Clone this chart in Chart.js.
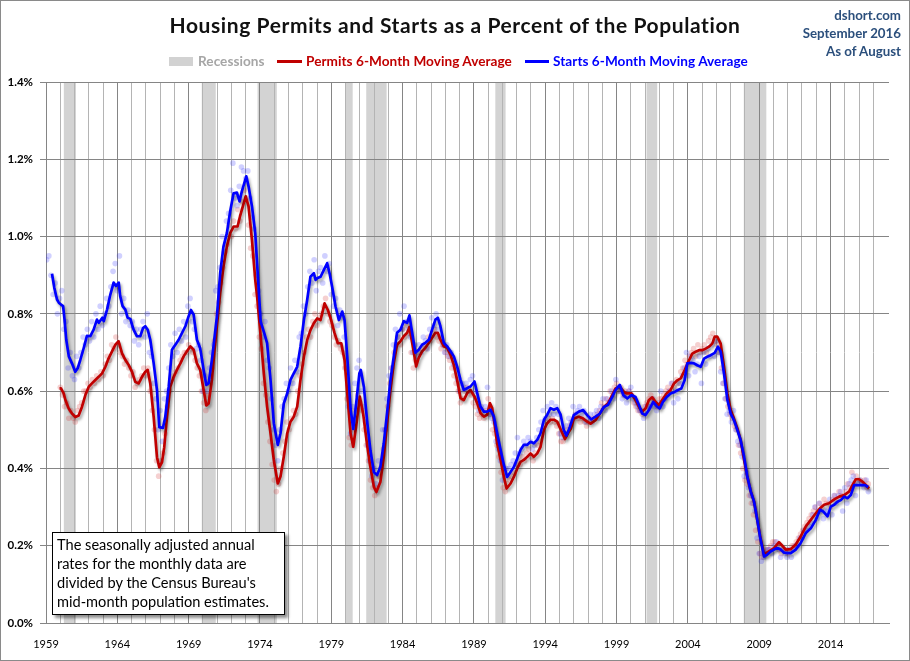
<!DOCTYPE html>
<html>
<head>
<meta charset="utf-8">
<script src="https://cdn.jsdelivr.net/npm/chart.js@4.4.0/dist/chart.umd.min.js"></script>
<style>
  html,body{margin:0;padding:0;background:#fff;}
  #wrap{position:relative;width:910px;height:661px;overflow:hidden;background:#fff;font-family:Lato,"Open Sans",sans-serif;}
  #c{position:absolute;left:0;top:0;}
  .abs{position:absolute;white-space:nowrap;}
  #title{left:0;width:910px;top:11px;text-align:center;font-weight:bold;font-size:21px;letter-spacing:0.6px;line-height:28px;color:#111;}
  .src{right:9px;font-weight:bold;font-size:13.3px;line-height:18px;color:#2b4f7c;text-align:right;}
  .leg{top:53px;font-weight:bold;font-size:13.6px;letter-spacing:0.05px;line-height:16px;}
  #note{left:52px;top:532px;width:233px;height:83px;box-sizing:border-box;border:1px solid #000;background:#fff;
        box-shadow:3px 3px 3px rgba(0,0,0,0.45);padding:1.5px 0 0 4px;font-size:14.6px;line-height:19.3px;color:#000;}
  #frame{position:absolute;left:0;top:0;width:910px;height:661px;box-sizing:border-box;border:1px solid #8a8a8a;pointer-events:none;}
</style>
</head>
<body>
<div id="wrap">
  <canvas id="c" width="910" height="661"></canvas>
  <div id="title" class="abs">Housing Permits and Starts as a Percent of the Population</div>
  <div class="abs src" style="top:6px;">dshort.com</div>
  <div class="abs src" style="top:24px;">September 2016</div>
  <div class="abs src" style="top:42px;">As of August</div>
  <div class="abs" style="left:169px;top:57px;width:24px;height:9px;background:#d2d2d2;"></div>
  <div class="abs leg" style="left:198px;color:#a6a6a6;">Recessions</div>
  <div class="abs" style="left:277px;top:60px;width:25px;height:3px;background:#c00000;"></div>
  <div class="abs leg" style="left:306px;color:#c00000;">Permits 6-Month Moving Average</div>
  <div class="abs" style="left:525px;top:60px;width:24px;height:3px;background:#0000ff;"></div>
  <div class="abs leg" style="left:553px;color:#0000ff;">Starts 6-Month Moving Average</div>
  <div id="note" class="abs">The seasonally adjusted annual<br>rates for the monthly data are<br>divided by the Census Bureau's<br>mid-month population estimates.</div>
  <div id="frame"></div>
</div>
<script>
// ---------------- DATA ----------------
const yearTickLabels = ['1959','1964','1969','1974','1979','1984','1989','1994','1999','2004','2009','2014'];
const percentTickLabels = ['0.0%','0.2%','0.4%','0.6%','0.8%','1.0%','1.2%','1.4%'];
const recessions = [[1960.25,1961.1],[1969.92,1970.9],[1973.83,1975.18],[1980.0,1980.5],[1981.45,1982.88],[1990.5,1991.22],[2001.1,2001.85],[2007.92,2009.5]];

// Starts 6-month moving average [year, % of population]
const startsMA = [[1959.42,0.904],[1959.58,0.868],[1959.77,0.837],[1959.9,0.829],[1960.05,0.824],[1960.2,0.82],[1960.3,0.785],[1960.42,0.733],[1960.6,0.69],[1960.82,0.672],[1961.05,0.65],[1961.22,0.659],[1961.4,0.68],[1961.64,0.711],[1961.87,0.743],[1962.1,0.742],[1962.34,0.759],[1962.57,0.785],[1962.7,0.777],[1962.95,0.79],[1963.05,0.781],[1963.28,0.811],[1963.51,0.85],[1963.74,0.881],[1963.9,0.872],[1964.1,0.881],[1964.2,0.846],[1964.37,0.82],[1964.56,0.811],[1964.72,0.79],[1964.91,0.787],[1965.14,0.759],[1965.38,0.742],[1965.61,0.742],[1965.8,0.763],[1965.96,0.768],[1966.13,0.759],[1966.31,0.733],[1966.55,0.672],[1966.78,0.603],[1966.94,0.507],[1967.2,0.505],[1967.36,0.533],[1967.6,0.611],[1967.83,0.707],[1968.07,0.72],[1968.3,0.733],[1968.53,0.75],[1968.77,0.768],[1969.0,0.794],[1969.16,0.81],[1969.35,0.798],[1969.58,0.733],[1969.81,0.711],[1970.05,0.655],[1970.24,0.616],[1970.4,0.62],[1970.63,0.681],[1970.74,0.715],[1970.98,0.793],[1971.21,0.905],[1971.44,0.974],[1971.68,1.009],[1971.91,1.065],[1972.15,1.112],[1972.38,1.114],[1972.57,1.091],[1972.73,1.117],[1973.04,1.156],[1973.2,1.13],[1973.44,1.078],[1973.67,1.009],[1973.8,0.93],[1974.05,0.78],[1974.3,0.75],[1974.5,0.724],[1974.74,0.629],[1974.97,0.517],[1975.25,0.461],[1975.44,0.491],[1975.67,0.568],[1975.91,0.594],[1976.14,0.629],[1976.37,0.646],[1976.61,0.663],[1976.84,0.715],[1977.08,0.784],[1977.31,0.836],[1977.54,0.896],[1977.78,0.905],[1977.9,0.888],[1978.01,0.892],[1978.25,0.896],[1978.48,0.914],[1978.71,0.931],[1978.88,0.905],[1979.06,0.87],[1979.3,0.819],[1979.53,0.784],[1979.77,0.806],[1979.93,0.784],[1980.12,0.689],[1980.35,0.555],[1980.54,0.502],[1980.75,0.57],[1980.97,0.646],[1981.07,0.655],[1981.29,0.61],[1981.52,0.52],[1981.75,0.445],[1981.99,0.39],[1982.21,0.383],[1982.44,0.404],[1982.68,0.465],[1982.91,0.543],[1983.15,0.629],[1983.38,0.69],[1983.61,0.751],[1983.85,0.759],[1984.08,0.781],[1984.32,0.777],[1984.48,0.796],[1984.67,0.751],[1984.9,0.699],[1985.13,0.707],[1985.37,0.72],[1985.6,0.725],[1985.84,0.733],[1986.07,0.759],[1986.3,0.785],[1986.47,0.79],[1986.65,0.768],[1986.89,0.725],[1987.12,0.716],[1987.36,0.703],[1987.59,0.69],[1987.82,0.664],[1988.06,0.629],[1988.29,0.603],[1988.53,0.608],[1988.76,0.612],[1989.04,0.625],[1989.23,0.595],[1989.46,0.56],[1989.7,0.547],[1989.93,0.547],[1990.16,0.552],[1990.4,0.534],[1990.63,0.491],[1990.87,0.448],[1991.1,0.409],[1991.33,0.378],[1991.57,0.391],[1991.8,0.404],[1992.04,0.426],[1992.27,0.448],[1992.5,0.461],[1992.74,0.461],[1992.97,0.469],[1993.2,0.465],[1993.44,0.474],[1993.67,0.491],[1993.91,0.526],[1994.14,0.539],[1994.37,0.556],[1994.61,0.552],[1994.84,0.556],[1995.07,0.54],[1995.3,0.499],[1995.49,0.485],[1995.73,0.508],[1996.0,0.538],[1996.36,0.547],[1996.66,0.551],[1996.94,0.538],[1997.22,0.527],[1997.53,0.534],[1997.83,0.542],[1998.11,0.559],[1998.39,0.564],[1998.7,0.585],[1998.93,0.603],[1999.23,0.616],[1999.47,0.59],[1999.75,0.581],[2000.05,0.59],[2000.33,0.585],[2000.57,0.564],[2000.8,0.542],[2001.03,0.538],[2001.27,0.551],[2001.57,0.572],[2001.81,0.561],[2002.02,0.555],[2002.25,0.572],[2002.51,0.585],[2002.79,0.594],[2003.07,0.598],[2003.3,0.603],[2003.54,0.607],[2003.77,0.628],[2003.96,0.672],[2004.19,0.673],[2004.43,0.672],[2004.66,0.667],[2004.9,0.663],[2005.13,0.684],[2005.36,0.689],[2005.6,0.693],[2005.88,0.699],[2006.11,0.715],[2006.3,0.702],[2006.53,0.646],[2006.77,0.577],[2007.0,0.542],[2007.23,0.525],[2007.47,0.499],[2007.7,0.473],[2007.94,0.43],[2008.17,0.378],[2008.41,0.34],[2008.64,0.314],[2008.87,0.266],[2009.06,0.223],[2009.34,0.172],[2009.57,0.177],[2009.8,0.185],[2010.04,0.19],[2010.27,0.194],[2010.5,0.19],[2010.75,0.182],[2011.0,0.181],[2011.21,0.181],[2011.56,0.19],[2011.91,0.207],[2012.27,0.233],[2012.62,0.245],[2012.97,0.267],[2013.27,0.293],[2013.5,0.288],[2013.79,0.276],[2014.02,0.301],[2014.26,0.306],[2014.49,0.314],[2014.72,0.318],[2014.96,0.327],[2015.19,0.323],[2015.42,0.331],[2015.66,0.357],[2015.85,0.357],[2016.13,0.357],[2016.41,0.357],[2016.64,0.352]];

// Permits 6-month moving average [year, % of population]
const permitsMA = [[1959.95,0.607],[1960.05,0.607],[1960.24,0.594],[1960.36,0.577],[1960.59,0.555],[1960.82,0.542],[1961.06,0.533],[1961.29,0.537],[1961.52,0.559],[1961.76,0.59],[1961.99,0.611],[1962.22,0.62],[1962.46,0.629],[1962.69,0.637],[1962.93,0.646],[1963.16,0.663],[1963.39,0.685],[1963.63,0.703],[1963.86,0.72],[1964.09,0.729],[1964.33,0.698],[1964.56,0.681],[1964.79,0.668],[1965.03,0.65],[1965.26,0.624],[1965.5,0.62],[1965.73,0.637],[1965.96,0.65],[1966.13,0.655],[1966.31,0.62],[1966.55,0.533],[1966.78,0.429],[1966.94,0.403],[1967.13,0.416],[1967.29,0.455],[1967.48,0.533],[1967.71,0.611],[1967.95,0.637],[1968.18,0.655],[1968.42,0.672],[1968.65,0.69],[1968.88,0.703],[1969.12,0.716],[1969.35,0.707],[1969.58,0.672],[1969.81,0.655],[1970.05,0.603],[1970.24,0.563],[1970.4,0.568],[1970.63,0.629],[1970.8,0.7],[1971.0,0.776],[1971.21,0.853],[1971.44,0.922],[1971.68,0.974],[1971.91,1.009],[1972.15,1.026],[1972.43,1.026],[1972.6,1.052],[1973.0,1.104],[1973.2,1.078],[1973.44,0.991],[1973.67,0.888],[1973.8,0.845],[1974.03,0.75],[1974.27,0.646],[1974.5,0.56],[1974.74,0.491],[1974.97,0.422],[1975.25,0.361],[1975.44,0.379],[1975.67,0.43],[1975.91,0.491],[1976.14,0.521],[1976.37,0.534],[1976.61,0.56],[1976.84,0.629],[1977.08,0.689],[1977.31,0.732],[1977.54,0.758],[1977.78,0.776],[1978.01,0.788],[1978.25,0.784],[1978.53,0.827],[1978.76,0.81],[1978.99,0.784],[1979.23,0.75],[1979.46,0.724],[1979.7,0.724],[1979.93,0.68],[1980.12,0.594],[1980.35,0.491],[1980.54,0.456],[1980.77,0.517],[1981.0,0.586],[1981.24,0.54],[1981.48,0.47],[1981.71,0.41],[1981.99,0.352],[1982.16,0.339],[1982.44,0.365],[1982.68,0.43],[1982.91,0.517],[1983.15,0.603],[1983.38,0.673],[1983.61,0.72],[1983.85,0.729],[1984.08,0.742],[1984.32,0.751],[1984.48,0.766],[1984.67,0.725],[1984.95,0.664],[1985.13,0.686],[1985.37,0.703],[1985.6,0.712],[1985.84,0.725],[1986.07,0.738],[1986.3,0.751],[1986.47,0.751],[1986.65,0.733],[1986.89,0.716],[1987.12,0.712],[1987.36,0.694],[1987.59,0.668],[1987.82,0.629],[1988.06,0.582],[1988.29,0.577],[1988.53,0.595],[1988.76,0.603],[1989.04,0.586],[1989.23,0.569],[1989.46,0.543],[1989.7,0.534],[1989.93,0.539],[1990.12,0.569],[1990.28,0.556],[1990.44,0.517],[1990.63,0.465],[1990.87,0.422],[1991.1,0.378],[1991.29,0.348],[1991.57,0.361],[1991.8,0.378],[1992.04,0.4],[1992.27,0.417],[1992.5,0.422],[1992.74,0.43],[1992.97,0.439],[1993.2,0.43],[1993.44,0.439],[1993.67,0.456],[1993.91,0.5],[1994.14,0.517],[1994.37,0.526],[1994.61,0.526],[1994.84,0.521],[1995.07,0.502],[1995.38,0.476],[1995.66,0.495],[1995.8,0.503],[1996.0,0.529],[1996.36,0.534],[1996.66,0.529],[1996.94,0.521],[1997.18,0.516],[1997.53,0.525],[1997.83,0.542],[1998.11,0.559],[1998.39,0.568],[1998.7,0.59],[1998.93,0.607],[1999.23,0.611],[1999.51,0.598],[1999.75,0.594],[2000.05,0.594],[2000.33,0.577],[2000.57,0.559],[2000.8,0.547],[2001.03,0.555],[2001.27,0.577],[2001.5,0.584],[2001.74,0.572],[2001.97,0.564],[2002.2,0.577],[2002.51,0.594],[2002.79,0.603],[2003.03,0.62],[2003.26,0.628],[2003.5,0.633],[2003.77,0.654],[2004.08,0.68],[2004.31,0.697],[2004.54,0.702],[2004.78,0.706],[2005.01,0.706],[2005.25,0.71],[2005.48,0.715],[2005.71,0.723],[2005.88,0.741],[2006.06,0.741],[2006.3,0.723],[2006.53,0.663],[2006.77,0.594],[2007.0,0.551],[2007.23,0.529],[2007.47,0.503],[2007.7,0.473],[2007.94,0.422],[2008.17,0.378],[2008.41,0.34],[2008.64,0.314],[2008.87,0.266],[2009.06,0.225],[2009.34,0.177],[2009.57,0.183],[2010.04,0.194],[2010.39,0.209],[2010.62,0.2],[2010.86,0.19],[2011.21,0.191],[2011.56,0.203],[2011.91,0.224],[2012.27,0.25],[2012.62,0.267],[2012.97,0.284],[2013.27,0.297],[2013.55,0.306],[2013.9,0.31],[2014.26,0.32],[2014.61,0.327],[2014.96,0.331],[2015.3,0.34],[2015.54,0.357],[2015.77,0.372],[2016.0,0.372],[2016.24,0.366],[2016.47,0.357],[2016.7,0.348]];

// Monthly starts (sampled readings of the faint dots)
const startsMonthly = [[1959.05,0.94],[1959.2,0.95],[1959.35,0.90],[1959.5,0.85],[1959.65,0.88],[1959.8,0.80],[1959.95,0.84],[1960.1,0.86],[1960.25,0.76],[1960.4,0.78],[1960.55,0.66],[1960.7,0.70],[1960.85,0.64],[1961.0,0.63],[1961.15,0.69],[1961.3,0.66],[1961.45,0.70],[1961.6,0.74],[1961.75,0.72],[1961.9,0.76],[1962.05,0.73],[1962.2,0.78],[1962.35,0.74],[1962.5,0.80],[1962.65,0.76],[1962.8,0.82],[1962.95,0.77],[1963.1,0.80],[1963.25,0.84],[1963.4,0.82],[1963.55,0.87],[1963.7,0.91],[1963.85,0.93],[1964.0,0.86],[1964.15,0.95],[1964.3,0.80],[1964.45,0.84],[1964.6,0.78],[1964.75,0.81],[1964.9,0.77],[1965.05,0.78],[1965.2,0.73],[1965.35,0.76],[1965.5,0.72],[1965.65,0.76],[1965.8,0.78],[1965.95,0.74],[1966.1,0.80],[1966.25,0.70],[1966.4,0.69],[1966.55,0.62],[1966.7,0.58],[1966.85,0.50],[1967.0,0.55],[1967.15,0.47],[1967.3,0.58],[1967.45,0.60],[1967.6,0.66],[1967.75,0.72],[1967.9,0.69],[1968.05,0.75],[1968.2,0.70],[1968.35,0.76],[1968.5,0.73],[1968.65,0.78],[1968.8,0.74],[1968.95,0.82],[1969.1,0.84],[1969.25,0.78],[1969.4,0.76],[1969.55,0.71],[1969.7,0.72],[1969.85,0.68],[1970.0,0.60],[1970.15,0.64],[1970.3,0.60],[1970.45,0.66],[1970.6,0.70],[1970.75,0.72],[1970.9,0.86],[1971.05,0.87],[1971.2,0.92],[1971.35,1.00],[1971.5,0.96],[1971.65,1.04],[1971.8,1.06],[1971.95,1.12],[1972.1,1.19],[1972.25,1.10],[1972.4,1.08],[1972.55,1.13],[1972.7,1.18],[1972.85,1.17],[1973.0,1.15],[1973.15,1.17],[1973.3,1.10],[1973.45,1.05],[1973.6,1.02],[1973.75,0.90],[1973.9,0.86],[1974.05,0.80],[1974.2,0.74],[1974.35,0.78],[1974.5,0.68],[1974.65,0.66],[1974.8,0.58],[1974.95,0.50],[1975.1,0.46],[1975.25,0.42],[1975.4,0.50],[1975.55,0.56],[1975.7,0.58],[1975.85,0.62],[1976.0,0.60],[1976.15,0.66],[1976.3,0.62],[1976.45,0.68],[1976.6,0.65],[1976.75,0.74],[1976.9,0.75],[1977.05,0.82],[1977.2,0.80],[1977.35,0.87],[1977.5,0.91],[1977.65,0.88],[1977.8,0.94],[1977.95,0.86],[1978.1,0.91],[1978.25,0.92],[1978.4,0.88],[1978.55,0.95],[1978.7,0.91],[1978.85,0.93],[1979.0,0.85],[1979.15,0.82],[1979.3,0.84],[1979.45,0.77],[1979.6,0.81],[1979.75,0.79],[1979.9,0.74],[1980.05,0.66],[1980.2,0.56],[1980.35,0.49],[1980.5,0.56],[1980.65,0.62],[1980.8,0.66],[1980.95,0.68],[1981.1,0.60],[1981.25,0.56],[1981.4,0.52],[1981.55,0.46],[1981.7,0.42],[1981.85,0.38],[1982.0,0.40],[1982.15,0.36],[1982.3,0.42],[1982.45,0.40],[1982.6,0.50],[1982.75,0.50],[1982.9,0.58],[1983.05,0.64],[1983.2,0.66],[1983.35,0.72],[1983.5,0.76],[1983.65,0.74],[1983.8,0.80],[1983.95,0.76],[1984.1,0.82],[1984.25,0.78],[1984.4,0.76],[1984.55,0.74],[1984.7,0.70],[1984.85,0.72],[1985.0,0.69],[1985.15,0.72],[1985.3,0.70],[1985.45,0.74],[1985.6,0.73],[1985.75,0.71],[1985.9,0.76],[1986.05,0.79],[1986.2,0.77],[1986.35,0.80],[1986.5,0.76],[1986.65,0.74],[1986.8,0.72],[1986.95,0.70],[1987.1,0.72],[1987.25,0.69],[1987.4,0.70],[1987.55,0.67],[1987.7,0.66],[1987.85,0.63],[1988.0,0.60],[1988.15,0.62],[1988.3,0.61],[1988.45,0.62],[1988.6,0.60],[1988.75,0.63],[1988.9,0.64],[1989.05,0.60],[1989.2,0.58],[1989.35,0.55],[1989.5,0.56],[1989.65,0.54],[1989.8,0.56],[1989.95,0.61],[1990.1,0.54],[1990.25,0.53],[1990.4,0.52],[1990.55,0.47],[1990.7,0.45],[1990.85,0.42],[1991.0,0.37],[1991.15,0.38],[1991.3,0.40],[1991.45,0.40],[1991.6,0.41],[1991.75,0.42],[1991.9,0.44],[1992.05,0.48],[1992.2,0.44],[1992.35,0.45],[1992.5,0.47],[1992.65,0.46],[1992.8,0.48],[1992.95,0.47],[1993.1,0.45],[1993.25,0.46],[1993.4,0.48],[1993.55,0.50],[1993.7,0.52],[1993.85,0.55],[1994.0,0.53],[1994.15,0.56],[1994.3,0.54],[1994.45,0.57],[1994.6,0.54],[1994.75,0.56],[1994.9,0.54],[1995.05,0.49],[1995.2,0.48],[1995.35,0.49],[1995.5,0.51],[1995.65,0.53],[1995.8,0.52],[1995.95,0.56],[1996.1,0.54],[1996.25,0.55],[1996.4,0.56],[1996.55,0.54],[1996.7,0.55],[1996.85,0.52],[1997.0,0.53],[1997.15,0.54],[1997.3,0.52],[1997.45,0.54],[1997.6,0.55],[1997.75,0.53],[1997.9,0.56],[1998.05,0.58],[1998.2,0.55],[1998.35,0.58],[1998.5,0.57],[1998.65,0.60],[1998.8,0.58],[1998.95,0.63],[1999.1,0.61],[1999.25,0.60],[1999.4,0.58],[1999.55,0.59],[1999.7,0.57],[1999.85,0.60],[2000.0,0.61],[2000.15,0.58],[2000.3,0.57],[2000.45,0.56],[2000.6,0.55],[2000.75,0.55],[2000.9,0.53],[2001.05,0.56],[2001.2,0.56],[2001.35,0.56],[2001.5,0.58],[2001.65,0.56],[2001.8,0.55],[2001.95,0.57],[2002.1,0.60],[2002.25,0.56],[2002.4,0.58],[2002.55,0.59],[2002.7,0.60],[2002.85,0.62],[2003.0,0.57],[2003.15,0.60],[2003.3,0.58],[2003.45,0.62],[2003.6,0.64],[2003.75,0.66],[2003.9,0.70],[2004.05,0.64],[2004.2,0.69],[2004.35,0.68],[2004.5,0.65],[2004.65,0.67],[2004.8,0.69],[2004.95,0.62],[2005.1,0.70],[2005.25,0.67],[2005.4,0.71],[2005.55,0.69],[2005.7,0.72],[2005.85,0.69],[2006.0,0.73],[2006.15,0.70],[2006.3,0.65],[2006.45,0.62],[2006.6,0.58],[2006.75,0.54],[2006.9,0.55],[2007.05,0.52],[2007.2,0.55],[2007.35,0.50],[2007.5,0.47],[2007.65,0.46],[2007.8,0.43],[2007.95,0.38],[2008.1,0.39],[2008.25,0.35],[2008.4,0.33],[2008.55,0.31],[2008.7,0.29],[2008.85,0.22],[2009.0,0.18],[2009.15,0.16],[2009.3,0.17],[2009.45,0.18],[2009.6,0.19],[2009.75,0.19],[2009.9,0.18],[2010.05,0.20],[2010.2,0.21],[2010.35,0.19],[2010.5,0.17],[2010.65,0.19],[2010.8,0.18],[2010.95,0.17],[2011.1,0.19],[2011.25,0.17],[2011.4,0.19],[2011.55,0.20],[2011.7,0.20],[2011.85,0.22],[2012.0,0.22],[2012.15,0.24],[2012.3,0.24],[2012.45,0.25],[2012.6,0.26],[2012.75,0.28],[2012.9,0.30],[2013.05,0.27],[2013.2,0.31],[2013.35,0.29],[2013.5,0.27],[2013.65,0.29],[2013.8,0.29],[2013.95,0.32],[2014.1,0.28],[2014.25,0.33],[2014.4,0.31],[2014.55,0.33],[2014.7,0.34],[2014.85,0.29],[2015.0,0.35],[2015.15,0.31],[2015.3,0.36],[2015.45,0.37],[2015.6,0.38],[2015.75,0.33],[2015.9,0.36],[2016.05,0.37],[2016.2,0.36],[2016.35,0.35],[2016.5,0.37],[2016.65,0.34]];

// Monthly permits (sampled readings of the faint dots)
const permitsMonthly = [[1960.0,0.61],[1960.15,0.59],[1960.3,0.56],[1960.45,0.57],[1960.6,0.53],[1960.75,0.55],[1960.9,0.53],[1961.05,0.52],[1961.2,0.55],[1961.35,0.56],[1961.5,0.57],[1961.65,0.60],[1961.8,0.60],[1961.95,0.62],[1962.1,0.61],[1962.25,0.63],[1962.4,0.62],[1962.55,0.64],[1962.7,0.63],[1962.85,0.65],[1963.0,0.64],[1963.15,0.67],[1963.3,0.69],[1963.45,0.68],[1963.6,0.72],[1963.75,0.71],[1963.9,0.74],[1964.05,0.72],[1964.2,0.70],[1964.35,0.69],[1964.5,0.67],[1964.65,0.68],[1964.8,0.66],[1964.95,0.64],[1965.1,0.65],[1965.25,0.61],[1965.4,0.62],[1965.55,0.63],[1965.7,0.64],[1965.85,0.66],[1966.0,0.64],[1966.15,0.66],[1966.3,0.60],[1966.45,0.55],[1966.6,0.50],[1966.75,0.42],[1966.9,0.38],[1967.05,0.42],[1967.2,0.44],[1967.35,0.49],[1967.5,0.56],[1967.65,0.60],[1967.8,0.63],[1967.95,0.64],[1968.1,0.65],[1968.25,0.66],[1968.4,0.68],[1968.55,0.69],[1968.7,0.70],[1968.85,0.70],[1969.0,0.72],[1969.15,0.71],[1969.3,0.70],[1969.45,0.68],[1969.6,0.66],[1969.75,0.64],[1969.9,0.60],[1970.05,0.57],[1970.2,0.55],[1970.35,0.59],[1970.5,0.62],[1970.65,0.66],[1970.8,0.73],[1970.95,0.80],[1971.1,0.83],[1971.25,0.88],[1971.4,0.92],[1971.55,0.96],[1971.7,0.98],[1971.85,1.03],[1972.0,1.00],[1972.15,1.04],[1972.3,1.02],[1972.45,1.07],[1972.6,1.04],[1972.75,1.09],[1972.9,1.12],[1973.05,1.10],[1973.2,1.03],[1973.35,0.97],[1973.5,0.95],[1973.65,0.85],[1973.8,0.82],[1973.95,0.74],[1974.1,0.71],[1974.25,0.62],[1974.4,0.59],[1974.55,0.52],[1974.7,0.47],[1974.85,0.41],[1975.0,0.37],[1975.15,0.34],[1975.3,0.36],[1975.45,0.40],[1975.6,0.44],[1975.75,0.47],[1975.9,0.52],[1976.05,0.50],[1976.2,0.53],[1976.35,0.55],[1976.5,0.54],[1976.65,0.60],[1976.8,0.64],[1976.95,0.67],[1977.1,0.70],[1977.25,0.74],[1977.4,0.76],[1977.55,0.74],[1977.7,0.78],[1977.85,0.80],[1978.0,0.77],[1978.15,0.79],[1978.3,0.80],[1978.45,0.82],[1978.6,0.84],[1978.75,0.80],[1978.9,0.78],[1979.05,0.77],[1979.2,0.74],[1979.35,0.72],[1979.5,0.73],[1979.65,0.71],[1979.8,0.70],[1979.95,0.66],[1980.1,0.58],[1980.25,0.48],[1980.4,0.46],[1980.55,0.50],[1980.7,0.55],[1980.85,0.59],[1981.0,0.57],[1981.15,0.55],[1981.3,0.50],[1981.45,0.46],[1981.6,0.42],[1981.75,0.37],[1981.9,0.35],[1982.05,0.33],[1982.2,0.35],[1982.35,0.38],[1982.5,0.40],[1982.65,0.45],[1982.8,0.50],[1982.95,0.56],[1983.1,0.62],[1983.25,0.66],[1983.4,0.70],[1983.55,0.72],[1983.7,0.74],[1983.85,0.72],[1984.0,0.76],[1984.15,0.74],[1984.3,0.77],[1984.45,0.75],[1984.6,0.70],[1984.75,0.66],[1984.9,0.68],[1985.05,0.69],[1985.2,0.70],[1985.35,0.71],[1985.5,0.72],[1985.65,0.71],[1985.8,0.74],[1985.95,0.73],[1986.1,0.75],[1986.25,0.76],[1986.4,0.74],[1986.55,0.73],[1986.7,0.71],[1986.85,0.72],[1987.0,0.70],[1987.15,0.69],[1987.3,0.68],[1987.45,0.66],[1987.6,0.64],[1987.75,0.62],[1987.9,0.60],[1988.05,0.57],[1988.2,0.58],[1988.35,0.60],[1988.5,0.61],[1988.65,0.60],[1988.8,0.59],[1988.95,0.57],[1989.1,0.56],[1989.25,0.54],[1989.4,0.53],[1989.55,0.54],[1989.7,0.53],[1989.85,0.55],[1990.0,0.58],[1990.15,0.54],[1990.3,0.50],[1990.45,0.49],[1990.6,0.46],[1990.75,0.43],[1990.9,0.39],[1991.05,0.35],[1991.2,0.34],[1991.35,0.36],[1991.5,0.37],[1991.65,0.38],[1991.8,0.39],[1991.95,0.41],[1992.1,0.42],[1992.25,0.41],[1992.4,0.43],[1992.55,0.42],[1992.7,0.44],[1992.85,0.45],[1993.0,0.43],[1993.15,0.42],[1993.3,0.44],[1993.45,0.46],[1993.6,0.47],[1993.75,0.49],[1993.9,0.51],[1994.05,0.52],[1994.2,0.53],[1994.35,0.52],[1994.5,0.53],[1994.65,0.52],[1994.8,0.51],[1994.95,0.49],[1995.1,0.47],[1995.25,0.47],[1995.4,0.49],[1995.55,0.50],[1995.7,0.51],[1995.85,0.52],[1996.0,0.53],[1996.15,0.54],[1996.3,0.53],[1996.45,0.52],[1996.6,0.53],[1996.75,0.52],[1996.9,0.51],[1997.05,0.52],[1997.2,0.52],[1997.35,0.53],[1997.5,0.53],[1997.65,0.54],[1997.8,0.55],[1997.95,0.57],[1998.1,0.56],[1998.25,0.58],[1998.4,0.57],[1998.55,0.60],[1998.7,0.59],[1998.85,0.61],[1999.0,0.62],[1999.15,0.60],[1999.3,0.61],[1999.45,0.59],[1999.6,0.60],[1999.75,0.59],[1999.9,0.60],[2000.05,0.59],[2000.2,0.57],[2000.35,0.56],[2000.5,0.55],[2000.65,0.55],[2000.8,0.54],[2000.95,0.56],[2001.1,0.57],[2001.25,0.58],[2001.4,0.59],[2001.55,0.58],[2001.7,0.57],[2001.85,0.56],[2002.0,0.58],[2002.15,0.58],[2002.3,0.59],[2002.45,0.60],[2002.6,0.61],[2002.75,0.60],[2002.9,0.62],[2003.05,0.61],[2003.2,0.63],[2003.35,0.62],[2003.5,0.65],[2003.65,0.66],[2003.8,0.68],[2003.95,0.67],[2004.1,0.69],[2004.25,0.70],[2004.4,0.71],[2004.55,0.69],[2004.7,0.72],[2004.85,0.70],[2005.0,0.71],[2005.15,0.72],[2005.3,0.70],[2005.45,0.73],[2005.6,0.74],[2005.75,0.75],[2005.9,0.73],[2006.05,0.72],[2006.2,0.70],[2006.35,0.66],[2006.5,0.62],[2006.65,0.58],[2006.8,0.56],[2006.95,0.54],[2007.1,0.53],[2007.25,0.51],[2007.4,0.50],[2007.55,0.46],[2007.7,0.44],[2007.85,0.40],[2008.0,0.37],[2008.15,0.36],[2008.3,0.33],[2008.45,0.31],[2008.6,0.28],[2008.75,0.24],[2008.9,0.21],[2009.05,0.18],[2009.2,0.17],[2009.35,0.18],[2009.5,0.19],[2009.65,0.19],[2009.8,0.20],[2009.95,0.21],[2010.1,0.21],[2010.25,0.20],[2010.4,0.19],[2010.55,0.18],[2010.7,0.19],[2010.85,0.19],[2011.0,0.18],[2011.15,0.19],[2011.3,0.20],[2011.45,0.20],[2011.6,0.21],[2011.75,0.22],[2011.9,0.23],[2012.05,0.24],[2012.2,0.25],[2012.35,0.26],[2012.5,0.27],[2012.65,0.28],[2012.8,0.29],[2012.95,0.30],[2013.1,0.29],[2013.25,0.31],[2013.4,0.30],[2013.55,0.32],[2013.7,0.31],[2013.85,0.31],[2014.0,0.30],[2014.15,0.32],[2014.3,0.33],[2014.45,0.32],[2014.6,0.34],[2014.75,0.33],[2014.9,0.33],[2015.05,0.34],[2015.2,0.36],[2015.35,0.35],[2015.5,0.39],[2015.65,0.36],[2015.8,0.38],[2015.95,0.37],[2016.1,0.37],[2016.25,0.36],[2016.4,0.37],[2016.55,0.35],[2016.65,0.36]];

// ---------------- CHART ----------------
const X_MIN = 1959, X_MAX = 2018.1;
const toPts = arr => arr.map(p => ({x: p[0], y: p[1]}));

const recessionPlugin = {
  id: 'recessions',
  beforeDraw(chart) {
    const {ctx, chartArea, scales} = chart;
    ctx.save();
    ctx.fillStyle = '#d3d3d3';
    recessions.forEach(r => {
      const x0 = scales.x.getPixelForValue(r[0]);
      const x1 = scales.x.getPixelForValue(r[1]);
      ctx.fillRect(x0, chartArea.top, x1 - x0, chartArea.bottom - chartArea.top);
    });
    ctx.restore();
  }
};

const shadowPlugin = {
  id: 'lineShadow',
  beforeDatasetDraw(chart, args) {
    const ds = chart.data.datasets[args.index];
    if (!ds.showLine) return;
    const ctx = chart.ctx;
    ctx.save();
    ctx.shadowColor = 'rgba(0,0,0,0.38)';
    ctx.shadowBlur = 3;
    ctx.shadowOffsetX = 1.5;
    ctx.shadowOffsetY = 2.5;
  },
  afterDatasetDraw(chart, args) {
    const ds = chart.data.datasets[args.index];
    if (!ds.showLine) return;
    chart.ctx.restore();
  }
};

Chart.defaults.font.family = 'Lato, "Open Sans", sans-serif';
Chart.defaults.color = '#000';

new Chart(document.getElementById('c'), {
  type: 'scatter',
  data: {
    datasets: [
      { label: 'Starts 6-Month Moving Average', data: toPts(startsMA), showLine: true, borderColor: '#0000ff',
        borderWidth: 2.7, pointRadius: 0, tension: 0, order: 0, borderJoinStyle: 'round' },
      { label: 'Permits 6-Month Moving Average', data: toPts(permitsMA), showLine: true, borderColor: '#c00000',
        borderWidth: 2.7, pointRadius: 0, tension: 0, order: 1, borderJoinStyle: 'round' },
      { label: 'Starts monthly', data: toPts(startsMonthly), showLine: false, pointRadius: 2.8, pointBorderWidth: 0,
        backgroundColor: 'rgba(40,40,255,0.22)', borderColor: 'rgba(0,0,0,0)', order: 2 },
      { label: 'Permits monthly', data: toPts(permitsMonthly), showLine: false, pointRadius: 2.8, pointBorderWidth: 0,
        backgroundColor: 'rgba(210,40,40,0.22)', borderColor: 'rgba(0,0,0,0)', order: 3 }
    ]
  },
  options: {
    responsive: false,
    animation: false,
    events: [],
    layout: { padding: { left: 0, top: 82, right: 21, bottom: 0 } },
    plugins: { legend: { display: false }, tooltip: { enabled: false }, title: { display: false } },
    scales: {
      x: {
        type: 'linear', min: X_MIN, max: X_MAX,
        afterFit: s => { s.height = 38; },
        afterBuildTicks: s => {
          const t = [];
          for (let y = X_MIN; y < X_MAX - 0.5; y++) t.push({ value: y });
          s.ticks = t;
        },
        grid: {
          drawTicks: false,
          lineWidth: 1,
          color: c => (yearTickLabels.includes(String(c.tick.value)) ? '#858585' : '#b4b4b4')
        },
        border: { color: '#858585', width: 1 },
        ticks: {
          autoSkip: false, maxRotation: 0, minRotation: 0, padding: 15,
          font: { size: 11 }, color: '#000',
          callback: v => (yearTickLabels.includes(String(v)) ? String(v) : '')
        }
      },
      y: {
        min: 0, max: 1.4,
        afterFit: s => { s.width = 46; },
        grid: { color: '#858585', lineWidth: 1, tickLength: 6, drawTicks: true },
        border: { color: '#858585', width: 1 },
        ticks: {
          stepSize: 0.2, padding: 7, color: '#000',
          font: { size: 11.5, weight: 'bold' },
          callback: (v, i) => percentTickLabels[i]
        }
      }
    }
  },
  plugins: [recessionPlugin, shadowPlugin]
});
</script>
</body>
</html>
